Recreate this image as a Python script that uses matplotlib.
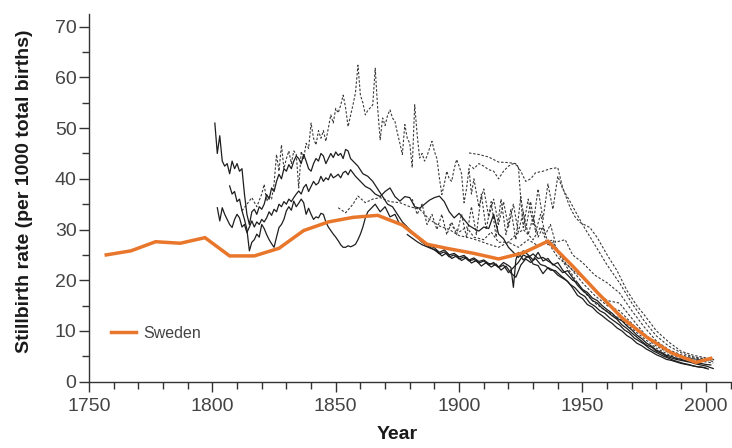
import matplotlib
matplotlib.use("Agg")
import matplotlib.pyplot as plt
from matplotlib.ticker import MultipleLocator

plt.rcParams['font.family'] = ['Liberation Sans Narrow', 'Liberation Sans', 'DejaVu Sans']

# Sweden (decade averages)
sweden_years = [1757, 1767, 1777, 1787, 1797, 1807, 1817, 1827, 1837, 1847, 1857, 1867, 1877,
                1887, 1896, 1906, 1916, 1926, 1936, 1946, 1956, 1966, 1976, 1986, 1996, 2002]
sweden_rate = [25.0, 25.8, 27.6, 27.3, 28.4, 24.8, 24.8, 26.3, 29.8, 31.5, 32.4, 32.8, 30.9,
               27.1, 26.2, 25.3, 24.2, 25.4, 27.7, 22.8, 17.6, 12.6, 8.8, 5.7, 3.8, 4.6]

# other countries, solid lines
s1_years = list(range(1801, 1857)) + list(range(1857, 1889, 2)) + list(range(1890, 2002, 2)) + [2003]
s1_rate = [51, 45, 48.5, 43.5, 42.5, 43, 41, 43.5, 42, 43,
           41.5, 42, 37, 33, 31, 33.5, 34, 33, 34.5, 34,
           35, 36.9, 36, 38.2, 37.5, 39.5, 40.9, 40, 42, 41.5,
           42.8, 42, 43.5, 44.5, 44, 43, 44.8, 43.5, 42, 41.5,
           43, 44, 43.5, 45, 44.5, 43, 44, 45, 44.2, 45.3,
           44.6, 45, 44, 45.8, 45.5, 44,
           43.5, 42.5, 41, 40.5, 39.5, 38, 36.5, 35, 34.5, 33, 31.5, 30.5, 29.5, 28.5, 27.5, 26.8,
           26, 25.2, 25.6, 24.6, 25, 24.2, 24.6, 23.8, 24.1, 23.4,
           23.8, 23, 23.5, 22.5, 23, 21.5, 22.5, 23.5, 25, 24.5,
           25.2, 24.3, 24.5, 23.8, 23.2, 22.5, 21.5, 21.9, 20.5, 19,
           18, 17.2, 16, 15.5, 14.5, 13.8, 13, 12.3, 11.2, 10.5,
           9.6, 8.8, 8, 7.2, 6.8, 6, 5.6, 5, 4.7, 4.4,
           4.2, 4, 3.8, 3.5, 3.3, 3.1,
           2.6]

s2_years = list(range(1802, 1857)) + list(range(1858, 1926, 2)) + list(range(1926, 2004, 2))
s2_rate = [34.3, 31.7, 34.3, 33, 32, 31, 30.4, 32, 33,
           32.3, 30.5, 31, 29.4, 30.5, 31.7, 30.5, 31.5, 31, 32,
           31.5, 32.3, 33.5, 32.8, 34, 33.5, 35, 34.5, 35.5, 35,
           36, 35.5, 36.3, 37, 37.6, 37, 38.3, 38.9, 37.5, 38.5,
           39.5, 38.8, 39.2, 40.5, 39.5, 40.2, 39.8, 41, 40.2, 40.5,
           40.9, 40.2, 41.2, 41.5, 40.8, 41.8,
           40.5, 39.5, 38.5, 38, 37, 36.5, 37.5, 38.2, 36.5, 35.6,
           36.5, 36.3, 34.5, 34.2, 35, 35.8, 36.3, 36.6, 35.5, 33.5,
           32.3, 33.2, 32, 30.8, 30.2, 29.7, 30.5, 30.2, 33, 29.1,
           28.2, 26.5, 25.5, 24.5,
           25.8, 25, 24, 25.5, 23.8, 24.3, 23, 23.5, 22, 21,
           20, 19.5, 18.2, 17.6, 16.5, 16, 15, 14.2, 13.5, 12.5,
           12, 11, 10.2, 9.2, 8.5, 7.6, 7, 6.2, 5.8, 5.2,
           5, 4.6, 4.4, 4.1, 4, 3.7, 3.6, 3.4, 3.3]

s3_years = list(range(1879, 2003, 2))
s3_rate = [29, 28.3, 27.6, 27, 26.6,
           26.2, 25.8, 24.8, 25.4, 24.3, 24.8, 23.9, 24.5, 23.4, 23.9,
           22.8, 23.5, 22.6, 23.2, 22, 22.8, 21.4, 20.6, 23, 24.2,
           23.5, 24.3, 23.1, 22.8, 22, 21.9, 21, 20.2, 19.2, 18.5,
           17.4, 16.8, 15.5, 14.9, 14, 13.5, 12.6, 11.9, 11.2, 10.2,
           9.6, 8.6, 8, 7.4, 6.6, 6, 5.5, 5, 4.6, 4.2,
           3.9, 3.6, 3.4, 3.1, 2.9, 2.8, 2.5]

s4_years = (list(range(1807, 1865)) + list(range(1866, 1920, 2)) + [1920, 1921, 1922, 1923]
            + list(range(1924, 2002, 2)))
s4_rate = [38.6, 37, 37.5, 35.5, 36, 33.7, 32, 30, 25.8, 27.5,
           28, 29.1, 28.5, 31, 30.2, 29, 28, 27.2, 26.5, 28.5,
           30.4, 31, 32, 33.7, 34.5, 33.8, 35.6, 34.5, 35.2, 36,
           35.3, 33, 34.2, 33, 32, 32.5, 32.3, 33.2, 33, 31.5,
           30.5, 29.8, 29.1, 28.5, 27.8, 27, 26.5, 26.5, 26.8, 26.6,
           26.8, 27.1, 28, 29.1, 30.5, 32.3, 33.5, 34,
           35, 33.5, 34.5, 32.5, 33, 31, 30.5, 29.5, 28.8, 28,
           27.2, 26.8, 26.4, 25.5, 26, 25, 25.3, 24.6, 24.9, 24,
           24.4, 23.7, 24, 23.3, 23.2, 22.6, 23.5,
           22.9, 22.5, 18.6, 24,
           25.5, 24, 24.8, 23.2, 22.9, 21.3, 22.5, 22, 21, 20.4,
           19.8, 18.5, 17, 16.4, 15.2, 14.7, 13.7, 13, 12.2, 11.5,
           10.6, 10, 9.1, 8.5, 7.6, 7.1, 6.4, 5.9, 5.3, 4.9,
           4.4, 4.2, 3.9, 3.6, 3.4, 3.2, 3.0, 2.9, 2.7]

# other countries, dashed lines
d1_years = ([1812, 1814, 1816, 1818, 1820, 1821, 1822, 1823, 1824, 1825] + list(range(1826, 1907))
            + list(range(1908, 1942, 2))
            + [1943, 1946, 1950, 1955, 1960, 1965, 1970, 1975, 1980, 1985, 1990, 1995, 2000, 2003])
d1_rate = [33.7, 35, 36.3, 34.5, 37, 38.9, 35.6, 36.5, 36, 39,
           44.8, 41.5, 46.7, 42, 44, 45.5, 43, 45.5, 44.8, 38.2,
           45.4, 44, 47, 46, 51, 48, 46.7, 49.5, 48, 49.5,
           47.4, 50, 52.6, 51, 53.9, 53, 54.5, 56.5, 54, 50.3,
           52.5, 54.6, 57, 62.4, 56.5, 55, 52.6, 53.5, 54, 54.6,
           61.8, 53.9, 47.7, 52, 50.5, 52.5, 53.6, 52, 51.3, 49,
           47, 44.8, 50.7, 48, 47, 42.2, 54.6, 48.7, 44.1, 45,
           43.5, 44.5, 46, 47.4, 45.4, 44, 40.2, 36.9, 39, 41.5,
           40, 39.5, 42, 43.8, 42.5, 41, 35.3, 38, 42, 37,
           40,
           34.5, 38, 32.5, 36, 31, 35.5, 30.5, 35, 29.5, 33.5, 29, 32.5, 28.5, 30.5, 27.5, 28, 25.5,
           23, 21, 18, 15.5, 13.8, 12.5, 10.5, 8.5, 6.6, 5.3, 4.6, 4.2, 3.9, 3.7]

d2_years = [1851, 1854, 1857, 1859, 1862, 1865, 1868, 1872, 1876, 1880,
            1884, 1888, 1892, 1896, 1900, 1904, 1908, 1912, 1916, 1920,
            1924, 1928, 1932, 1936, 1940, 1945, 1950, 1955, 1960, 1965,
            1970, 1975, 1980, 1985, 1990, 1995, 2000, 2003]
d2_rate = [34.3, 33.3, 35, 36.6, 35.3, 36, 36.3, 35.5, 35.3, 34.5,
           34, 32, 30.7, 30, 28.8, 28.4, 27.8, 27.1, 26.5, 27.5,
           26.5, 28, 26.8, 27.5, 24.5, 22.5, 19.5, 17, 15, 14,
           11.5, 9, 7, 5.7, 5, 4.5, 4.2, 4]

d3_years = [1904, 1908, 1912, 1916, 1920, 1923, 1925, 1927, 1929, 1931,
            1934, 1937, 1940, 1942, 1945, 1947, 1949, 1953, 1956, 1960,
            1964, 1968, 1972, 1975, 1980, 1985, 1990, 1995, 2000, 2004]
d3_rate = [45.1, 44.8, 44.3, 43.3, 43.2, 43, 41.5, 39.5, 40, 41.2,
           41.5, 42, 42.2, 38.2, 34.3, 32.5, 31.4, 30.4, 28.4, 25,
           21.9, 18, 15, 13.2, 10, 7.8, 6, 5.2, 4.7, 4.3]

d4_years = [1904, 1906, 1908, 1910, 1912, 1914, 1916, 1918, 1920, 1922,
            1924, 1925, 1926, 1928, 1930, 1932, 1934, 1936, 1938, 1940,
            1942, 1945, 1950, 1955, 1960, 1965, 1970, 1975, 1980, 1985,
            1990, 1995, 2000, 2003]
d4_rate = [42.8, 42, 43, 42.5, 41.8, 41.5, 40, 41.5, 42.5, 43,
           42.5, 36, 30.4, 36, 31, 38, 32, 39, 34, 40.5,
           38, 35.5, 31, 27, 23, 19.5, 15.5, 12, 9, 7,
           5.7, 4.9, 4.5, 4.3]

d5_years = list(range(1881, 1941, 2)) + [1943, 1946, 1950, 1955, 1960, 1965, 1970,
                                         1975, 1980, 1985, 1990, 1995, 2000, 2003]
d5_rate = [36, 33, 35, 31, 33, 30, 33, 29, 31.5, 29,
           33, 28.5, 34.5, 29, 37, 30, 35.5, 28.5, 36, 29,
           34, 28, 36.5, 30, 35.5, 29.5, 33, 29, 31, 27.5,
           28, 25, 23.5, 21, 19.5, 17.5, 14, 10.8, 8, 6.3, 5.3, 4.7, 4.4, 4.2]

d6_years = [1896, 1900, 1903, 1906, 1910, 1913, 1916, 1920, 1923, 1926,
            1930, 1933, 1936, 1938, 1940, 1943, 1946, 1950, 1955, 1960,
            1965, 1970, 1975, 1980, 1985, 1990, 1995, 2000]
d6_rate = [31, 29.5, 30.5, 28.5, 28, 29.5, 27.5, 27.5, 29, 30,
           28, 30.5, 27, 27.5, 26, 23.5, 22, 20.5, 18, 16,
           15.5, 12.5, 9.5, 7.4, 5.9, 5, 4.5, 4.1]

solid = [(s1_years, s1_rate), (s2_years, s2_rate), (s3_years, s3_rate), (s4_years, s4_rate)]
dashed = [(d1_years, d1_rate), (d2_years, d2_rate), (d3_years, d3_rate),
          (d4_years, d4_rate), (d5_years, d5_rate), (d6_years, d6_rate)]

fig = plt.figure(figsize=(7.32, 4.48), dpi=100)
ax = fig.add_axes([89 / 732, 66.3 / 448, 643 / 732, 367.2 / 448])

for yrs, vals in dashed:
    ax.plot(yrs, vals, color='#3a3a3a', linewidth=0.8, linestyle=(0, (2.2, 1.6)))
for yrs, vals in solid:
    ax.plot(yrs, vals, color='#1e1e1e', linewidth=0.9)

ax.plot(sweden_years, sweden_rate, color='#E8762B', linewidth=2.5, label='Sweden',
        solid_joinstyle='miter')

ax.set_xlim(1750, 2010.6)
ax.set_ylim(0, 72.4)
ax.xaxis.set_major_locator(MultipleLocator(50))
ax.xaxis.set_minor_locator(MultipleLocator(10))
ax.yaxis.set_major_locator(MultipleLocator(10))
ax.yaxis.set_minor_locator(MultipleLocator(5))

for side in ['top', 'right']:
    ax.spines[side].set_visible(False)
for side in ['left', 'bottom']:
    ax.spines[side].set_linewidth(1.0)
    ax.spines[side].set_color('#333333')

ax.tick_params(which='major', length=7, width=1, color='#333333', labelsize=14,
               labelcolor='#444444')
ax.tick_params(which='minor', length=5, width=1, color='#333333')
ax.tick_params(axis='y', pad=2)
ax.tick_params(axis='x', pad=5)

ax.set_ylabel('Stillbirth rate (per 1000 total births)', fontsize=14, fontweight='bold',
              color='#1a1a1a')
ax.yaxis.set_label_coords(-0.087, 0.52)
ax.set_xlabel('Year', fontsize=14, fontweight='bold', color='#1a1a1a')
ax.xaxis.set_label_coords(0.48, -0.12)

ax.legend(loc='center left', bbox_to_anchor=(0.034, 0.132), frameon=False, fontsize=11.5,
          handlelength=1.6, handletextpad=0.4, borderpad=0, borderaxespad=0,
          labelcolor='#444444')

fig.savefig('out.png', dpi=100)
